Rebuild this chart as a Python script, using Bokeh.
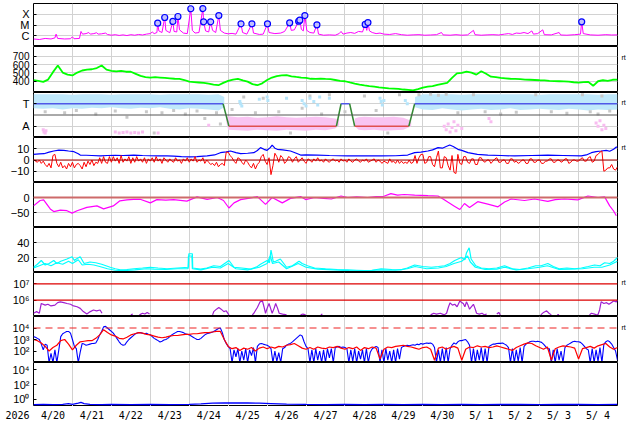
import math
from bokeh.plotting import figure
from bokeh.models import Range1d, FixedTicker, Span, LinearAxis, LogAxis
from bokeh.layouts import column
from bokeh.embed import file_html
from bokeh.resources import INLINE
from bokeh.core.properties import value

NaN = float("nan")

# ---------------- data (x = days since 2026-04-20 00 UT) ----------------
N_DAYS = 15
day_labels = ["4/20", "4/21", "4/22", "4/23", "4/24", "4/25", "4/26", "4/27",
              "4/28", "4/29", "4/30", "5/ 1", "5/ 2", "5/ 3", "5/ 4"]
year_label = "2026"

# X-ray flux, log10(W/m2)
xray = [(0.00, -6.30), (0.15, -6.35), (0.30, -6.25), (0.45, -6.30), (0.55, -6.20), (0.58, -5.85),
        (0.62, -6.25), (0.80, -6.30), (0.95, -6.28), (1.00, -6.10), (1.04, -6.28), (1.18, -6.25),
        (1.22, -5.60), (1.26, -5.85), (1.35, -5.80), (1.42, -5.70), (1.46, -5.85), (1.55, -5.80),
        (1.62, -5.72), (1.66, -5.85), (1.75, -5.82), (1.85, -5.75), (1.90, -5.88), (2.00, -5.95),
        (2.10, -5.90), (2.20, -5.97), (2.30, -5.92), (2.40, -5.98), (2.50, -5.90), (2.60, -5.95),
        (2.70, -5.88), (2.80, -5.93), (2.90, -5.85), (3.00, -5.80), (3.05, -5.65), (3.10, -5.80),
        (3.17, -5.70), (3.19, -4.83), (3.22, -5.55), (3.30, -5.70), (3.37, -4.30), (3.40, -5.50),
        (3.50, -5.72), (3.58, -4.67), (3.61, -5.60), (3.68, -5.65), (3.71, -4.21), (3.75, -5.45),
        (3.85, -5.75), (3.95, -5.80), (4.04, -3.49), (4.08, -5.50), (4.15, -5.75), (4.25, -5.70),
        (4.35, -3.47), (4.37, -4.70), (4.42, -5.55), (4.50, -5.65), (4.55, -4.70), (4.60, -5.50),
        (4.68, -5.70), (4.76, -4.12), (4.80, -5.50), (4.90, -5.75), (5.00, -5.82), (5.10, -5.78),
        (5.20, -5.85), (5.33, -4.89), (5.37, -5.70), (5.48, -5.85), (5.61, -4.89), (5.65, -5.75),
        (5.80, -5.88), (5.90, -5.85), (6.01, -4.89), (6.05, -5.70), (6.20, -5.80), (6.35, -5.75),
        (6.45, -5.60), (6.58, -4.80), (6.62, -5.50), (6.70, -5.45), (6.81, -4.65), (6.84, -4.55),
        (6.88, -5.40), (6.93, -5.55), (6.97, -4.12), (7.02, -5.50), (7.10, -5.70), (7.20, -5.75),
        (7.28, -4.98), (7.32, -5.85), (7.45, -5.95), (7.60, -5.92), (7.75, -5.95), (7.85, -5.80),
        (7.90, -5.60), (7.95, -5.85), (8.05, -5.75), (8.15, -5.70), (8.25, -5.78), (8.35, -5.60),
        (8.45, -5.65), (8.52, -4.95), (8.56, -5.50), (8.59, -4.77), (8.63, -5.55), (8.70, -5.70),
        (8.80, -5.80), (8.90, -5.75), (9.00, -5.85), (9.15, -5.88), (9.30, -5.80), (9.45, -5.90),
        (9.60, -5.95), (9.75, -5.92), (9.90, -5.90), (10.05, -5.95), (10.20, -5.93), (10.35, -5.90),
        (10.48, -5.70), (10.52, -5.92), (10.70, -5.95), (10.85, -5.90), (11.00, -5.95), (11.15, -5.92),
        (11.30, -5.50), (11.34, -5.90), (11.50, -5.95), (11.65, -5.92), (11.80, -5.90), (11.95, -5.93),
        (12.10, -5.85), (12.20, -5.80), (12.30, -5.88), (12.40, -5.75), (12.50, -5.78), (12.60, -5.70),
        (12.70, -5.80), (12.80, -5.55), (12.84, -5.85), (12.95, -5.80), (13.08, -5.45), (13.12, -5.90),
        (13.30, -5.92), (13.50, -5.70), (13.54, -5.93), (13.70, -5.95), (13.90, -5.90), (14.05, -5.85),
        (14.08, -4.70), (14.12, -5.80), (14.30, -5.92), (14.50, -5.95), (14.70, -5.90), (14.85, -5.93),
        (15.00, -5.92)]
flares = [(3.19, -4.83), (3.37, -4.30), (3.58, -4.67), (3.71, -4.21), (4.04, -3.49), (4.35, -3.47),
          (4.37, -4.70), (4.55, -4.70), (4.76, -4.12), (5.33, -4.89), (5.61, -4.89), (6.01, -4.89),
          (6.58, -4.80), (6.81, -4.65), (6.84, -4.55), (6.97, -4.12), (7.28, -4.98), (8.52, -4.95),
          (8.59, -4.77), (14.08, -4.70)]

# solar wind speed (km/s), every 3 h
sw_step = 0.125
sw_speed = [412, 405, 392, 420, 510, 590, 505, 480,
            470, 505, 530, 540, 545, 560, 590, 540,
            525, 520, 525, 515, 515, 490, 465, 450,
            445, 450, 445, 440, 435, 430, 428, 415,
            395, 390, 385, 380, 372, 360, 352, 380,
            405, 420, 428, 410, 395, 365, 352, 375,
            415, 445, 462, 470, 475, 460, 452, 445,
            440, 430, 428, 432, 428, 425, 415, 405,
            400, 385, 371, 360, 350, 342, 335, 325,
            320, 315, 312, 308, 300, 295, 290, 305,
            322, 335, 340, 355, 368, 380, 440, 495,
            500, 515, 505, 480, 520, 490, 455, 450,
            440, 435, 430, 428, 425, 420, 418, 415,
            412, 410, 405, 402, 400, 398, 395, 388,
            383, 390, 392, 345, 400, 412, 405, 418,
            420]

# IMF sector (T = +1, A = -1)
sector_t = [0, 4.87, 5.02, 7.78, 7.90, 8.12, 8.25, 9.64, 9.79, 15]
sector_v = [1, 1, -1, -1, 1, 1, -1, -1, 1, 1]
toward_band_1 = [(0.0, 0.6, 1.85), (0.25, 0.55, 1.85), (0.5, 0.6, 1.85), (0.75, 0.5, 1.85), (1.0, 0.6, 1.8),
                 (1.25, 0.55, 1.85), (1.5, 0.65, 1.85), (1.75, 0.6, 1.85), (2.0, 0.7, 1.8), (2.25, 0.6, 1.85),
                 (2.5, 0.55, 1.85), (2.75, 0.65, 1.85), (3.0, 0.6, 1.85), (3.25, 0.7, 1.8), (3.5, 0.55, 1.85),
                 (3.75, 0.5, 1.85), (4.0, 0.6, 1.85), (4.25, 0.55, 1.85), (4.5, 0.5, 1.8), (4.75, 0.4, 1.85),
                 (4.9, 0.7, 1.6)]
toward_band_2 = [(9.8, 0.7, 1.6), (10.0, 0.5, 1.85), (10.25, 0.45, 1.85), (10.5, 0.6, 1.85), (10.75, 0.5, 1.85),
                 (11.0, 0.4, 1.8), (11.25, 0.5, 1.85), (11.5, 0.55, 1.85), (11.75, 0.45, 1.85), (12.0, 0.5, 1.85),
                 (12.25, 0.6, 1.85), (12.5, 0.45, 1.85), (12.75, 0.5, 1.85), (13.0, 0.55, 1.8), (13.25, 0.5, 1.85),
                 (13.5, 0.45, 1.85), (13.75, 0.55, 1.85), (14.0, 0.5, 1.85), (14.25, 0.4, 1.85), (14.5, 0.5, 1.8),
                 (14.75, 0.45, 1.85), (15.0, 0.5, 1.85)]
away_band_1 = [(4.95, -0.6, -0.2), (5.0, -1.3, -0.1), (5.25, -1.35, -0.2), (5.5, -1.4, -0.15), (5.75, -1.3, -0.25),
               (6.0, -1.35, -0.2), (6.25, -1.4, -0.1), (6.5, -1.3, -0.2), (6.75, -1.35, -0.25), (7.0, -1.4, -0.2),
               (7.25, -1.3, -0.15), (7.5, -1.35, -0.2), (7.75, -1.2, -0.3), (7.85, -0.9, -0.4)]
away_band_2 = [(8.25, -1.0, -0.3), (8.35, -1.3, -0.2), (8.5, -1.35, -0.15), (8.75, -1.3, -0.2), (9.0, -1.4, -0.2),
               (9.25, -1.35, -0.15), (9.5, -1.3, -0.25), (9.7, -1.0, -0.5)]
gray_pts = [(0.3, 0.3), (0.8, 0.2), (1.1, 0.4), (1.6, 0.1), (2.1, 0.35), (2.4, -0.2), (2.9, 0.3), (3.1, -1.6),
            (3.3, 0.2), (3.6, 0.4), (3.9, 0.1), (4.2, 0.35), (4.4, -0.3), (4.7, 0.2), (4.8, -0.8), (5.1, 0.5),
            (5.4, 1.6), (5.7, 0.2), (5.9, 1.5), (6.3, 0.3), (6.6, -1.6), (6.9, 0.6), (7.1, 1.7), (7.4, 0.1),
            (7.6, 1.8), (8.0, 0.3), (8.5, 1.7), (8.8, 0.4), (9.1, -1.6), (9.4, 1.8), (9.9, 1.8), (10.2, 1.85),
            (10.4, 1.75), (10.6, 1.85), (10.9, 0.2), (11.3, 1.8), (11.6, 0.3), (12.0, 0.1), (12.4, 0.25),
            (12.9, 1.8), (13.3, 0.3), (13.7, 0.15), (14.1, 1.8), (14.3, 0.3), (14.5, 0.1), (14.6, 1.7), (14.8, 0.35)]
toward_pts = [(5.3, 1.2), (5.32, 1.0), (5.35, 0.8), (5.8, 1.4), (6.0, 1.6), (6.02, 1.3), (6.5, 1.5), (6.9, 1.3),
              (6.95, 1.0), (7.0, 0.8), (7.1, 1.5), (7.2, 1.2), (7.3, 0.9), (7.35, 1.6), (7.6, 1.5), (8.9, 1.5),
              (8.93, 1.2), (8.96, 0.9), (9.0, 1.3), (9.55, 1.3), (9.6, 1.0)]
away_pts = [(0.25, -1.3), (0.27, -1.5), (0.3, -1.6), (0.32, -1.4), (2.1, -1.5), (2.2, -1.6), (2.3, -1.55),
            (2.4, -1.5), (2.5, -1.6), (2.6, -1.55), (2.7, -1.6), (2.8, -1.5), (3.2, -1.6), (4.5, -0.9),
            (10.55, -1.0), (10.6, -1.3), (10.65, -0.8), (10.7, -1.5), (10.75, -1.1), (10.8, -0.6),
            (10.85, -1.4), (10.9, -0.9), (11.0, -1.2), (11.7, -0.3), (11.75, -0.6), (14.45, -0.7),
            (14.5, -1.0), (14.55, -0.5), (14.6, -1.3), (14.65, -0.9), (14.7, -1.2)]

# IMF Bt and Bz (nT)
bt = [(0, 5.0), (0.15, 5.4), (0.27, 5.6), (0.4, 7.0), (0.52, 8.0), (0.65, 8.8), (0.78, 8.6), (0.9, 8.0),
      (1.04, 7.4), (1.15, 5.5), (1.2, 4.4), (1.35, 4.2), (1.5, 4.0), (1.72, 3.6), (1.9, 4.0), (2.1, 4.2),
      (2.3, 4.0), (2.58, 4.4), (2.8, 4.0), (3.0, 3.8), (3.2, 3.6), (3.43, 3.6), (3.6, 3.4), (3.8, 3.0),
      (4.03, 2.7), (4.2, 3.0), (4.46, 3.6), (4.65, 4.5), (4.8, 6.5), (4.95, 7.2), (5.06, 8.0), (5.2, 6.5),
      (5.32, 5.6), (5.5, 6.0), (5.66, 6.5), (5.75, 8.5), (5.83, 11.0), (5.92, 9.5), (6.0, 8.6), (6.08, 11.0),
      (6.13, 13.3), (6.2, 10.5), (6.26, 9.5), (6.4, 9.0), (6.6, 8.0), (6.75, 6.0), (6.86, 4.4), (7.0, 4.6),
      (7.29, 4.4), (7.6, 4.0), (8.07, 3.6), (8.5, 3.8), (8.93, 3.6), (9.3, 3.8), (9.61, 4.4), (9.79, 6.5),
      (9.95, 7.0), (10.13, 8.0), (10.25, 9.0), (10.39, 11.0), (10.5, 10.5), (10.6, 12.0), (10.69, 13.3),
      (10.78, 12.0), (10.9, 9.5), (11.0, 8.5), (11.16, 6.5), (11.4, 5.0), (11.67, 4.4), (12.0, 4.0),
      (12.36, 3.6), (12.8, 4.0), (13.21, 4.4), (13.6, 4.0), (14.07, 3.6), (14.2, 4.5), (14.33, 6.5),
      (14.45, 7.5), (14.58, 8.0), (14.71, 8.6), (14.8, 7.8), (14.9, 9.5), (14.97, 11.5), (15.0, 11.5)]
bz_step = 0.05
bz = [0.5, -1, -2, 0, -3, -1, -4, -6, -3, -7, 4, 5, -3, -6, -2, -7, -5, -8, -3, -6,
      -2, -7, -4, -3, -5, -8, -2, -6, -1, -4, 0, -5, -2, -3, 2, -3, 3, -2, -3, 3,
      -2, 3, -1, 2, -3, 4, -2, 1, -1, 3, -3, 2, -2, 3, -1, 1, -2, 2, -3, 1,
      -1, 2, -2, 3, -1, 1, -3, 2, 0, -2, 1, -1, -2, 2, -1, 0, -3, 1, -1, 2,
      -2, 1, -1, 3, -2, 0, -1, 2, -3, 0, -2, -4, -3, -5, -2, -6, -4, -3, -5, 7,
      7, 4, 2, -1, -3, 2, 1, -2, -4, 0, -2, -5, -7, -3, -8, -4, -2, 3, 5, -1,
      -4, 2, -13, -5, 6, 3, -2, 4, 2, -3, -1, 3, 2, -2, 1, 3, -2, 0, 2, -1,
      -3, 1, 0, -2, 1, -1, 2, -1, 0, -2, 1, -1, -2, 0, 1, -1, 0, -2, 1, -1,
      0, -2, 1, -1, -2, 0, 1, -1, -2, 0, -1, 1, -2, -1, 0, 1, -2, 0, -1, -3,
      -1, -2, -3, 1, -2, -1, -3, 0, -3, -1, -3, -2, -3, 0, -3, -2, 4, -3, 2, 5,
      5, -3, -2, 3, 3, -4, -6, 2, 8, -7, -7, 3, 2, -5, -9, 4, -11, -12, 5, -3,
      -4, 3, 3, -2, -3, 1, 1, -4, -4, 2, 2, -1, -2, 0, 0, -3, -1, 1, 2, -2,
      -2, 0, 0, -3, -3, 1, 1, -2, -1, -3, -2, 0, 0, -3, -3, 1, 1, -2, -2, 0,
      0, -3, -3, -1, -1, 1, 1, -2, -2, 0, 0, -2, -1, 1, 1, -3, -2, 0, 0, -1,
      -1, 1, 2, -1, -1, 2, 3, -2, -1, 4, 5, 7, 8, -10, -9, -7, -7, -4, -8, -9,
      -6]

# Dst (nT)
dst = [(0.0, -28), (0.17, -10), (0.26, -8), (0.43, -38), (0.52, -47), (0.69, -42), (0.86, -44), (0.99, -52),
       (1.12, -44), (1.37, -33), (1.63, -28), (1.8, -38), (2.05, -28), (2.22, -11), (2.4, -8), (2.57, -6),
       (2.74, -6), (3.0, -18), (3.17, -7), (3.4, -9), (3.6, -7), (3.94, -12), (4.2, 2), (4.46, -6), (4.72, 0),
       (4.88, -10), (5.02, -35), (5.15, -18), (5.32, -7), (5.55, -2), (5.75, 3), (5.96, -23), (6.13, 0),
       (6.39, -18), (6.6, -3), (6.86, 3), (6.99, -7), (7.22, 0), (7.45, -3), (7.65, -5), (7.9, 5), (8.07, 0),
       (8.3, 2), (8.58, 0), (8.8, 3), (9.0, 4), (9.18, 13), (9.35, 8), (9.52, 10), (9.79, 8), (10.13, 6),
       (10.39, 5), (10.52, -5), (10.65, -16), (10.8, -28), (10.95, -40), (11.07, -20), (11.2, -33),
       (11.41, -14), (11.67, -22), (11.93, -31), (12.1, -15), (12.27, -5), (12.61, -10), (12.87, -5),
       (13.21, -13), (13.4, -7), (13.64, -5), (13.98, -8), (14.24, 5), (14.5, 0), (14.67, 2), (14.8, -28),
       (14.9, -45), (14.97, -61)]

# cyan index (two traces)
cyan_a = [(0, 7), (0.1, 11), (0.2, 16), (0.3, 10), (0.4, 12), (0.52, 16), (0.6, 12), (0.7, 15), (0.86, 18),
          (0.99, 21), (1.05, 16), (1.1, 18), (1.2, 21), (1.3, 12), (1.45, 14), (1.6, 13), (1.75, 11), (1.97, 7),
          (2.1, 5), (2.23, 3.5), (2.4, 4), (2.58, 5), (2.8, 6), (3.0, 7), (3.2, 6), (3.43, 5), (3.7, 6),
          (3.98, 7), (3.99, 25), (4.08, 25), (4.09, 6), (4.29, 4.5), (4.45, 6), (4.63, 9), (4.8, 8), (5.02, 16),
          (5.15, 7), (5.35, 6), (5.58, 4.5), (5.75, 8), (5.83, 11), (6.0, 16), (6.06, 13), (6.1, 30), (6.16, 14),
          (6.22, 15), (6.34, 18), (6.5, 7), (6.65, 9), (6.82, 15), (6.9, 12), (7.04, 9), (7.22, 6), (7.5, 5),
          (7.8, 4), (8.07, 3.5), (8.3, 3), (8.5, 2.5), (8.7, 3), (8.93, 5), (9.2, 4), (9.44, 3.5), (9.6, 6),
          (9.79, 10), (10.0, 8), (10.22, 7), (10.4, 8), (10.56, 9), (10.7, 12), (10.82, 16), (10.99, 20),
          (11.08, 17), (11.12, 26), (11.19, 33), (11.24, 18), (11.36, 9), (11.5, 6), (11.7, 5), (11.9, 6),
          (12.1, 9), (12.3, 5), (12.5, 4), (12.7, 6), (12.9, 9), (13.04, 9), (13.21, 12), (13.35, 8), (13.5, 5),
          (13.7, 6), (13.9, 5), (14.07, 6), (14.25, 8), (14.41, 10), (14.55, 9), (14.67, 13), (14.8, 12),
          (14.9, 15), (15.0, 20)]
cyan_b = [(0, 6), (0.15, 9), (0.3, 12), (0.45, 9), (0.6, 13), (0.75, 11), (0.9, 15), (1.0, 12), (1.15, 17),
          (1.25, 10), (1.4, 11), (1.55, 10), (1.7, 8), (1.9, 5), (2.1, 3), (2.3, 2.5), (2.6, 3.5), (2.9, 5),
          (3.1, 4.5), (3.4, 4), (3.7, 5), (3.97, 5), (3.98, 22), (4.07, 22), (4.08, 5), (4.3, 3.5), (4.6, 7),
          (4.8, 6), (5.0, 12), (5.2, 5), (5.5, 3.5), (5.8, 7), (6.0, 12), (6.08, 22), (6.14, 12), (6.3, 14),
          (6.5, 5), (6.8, 12), (7.0, 7), (7.3, 4.5), (7.7, 3.5), (8.1, 2.5), (8.5, 2), (8.9, 3.5), (9.3, 3),
          (9.6, 5), (9.8, 8), (10.1, 5), (10.4, 6), (10.6, 8), (10.8, 12), (11.0, 15), (11.15, 22), (11.22, 14),
          (11.35, 7), (11.6, 4), (11.9, 4.5), (12.1, 7), (12.4, 3.5), (12.7, 5), (13.0, 7), (13.2, 9), (13.5, 4),
          (13.8, 4.5), (14.1, 5), (14.4, 7), (14.6, 7), (14.8, 10), (15.0, 15)]

# purple flux, log10
purple = [(0.0, 5.2), (0.08, 5.3), (0.15, 5.2), (0.2, 5.8), (0.3, 5.7), (0.37, 5.75), (0.45, 5.65), (0.55, 5.7),
          (0.62, 5.85), (0.69, 5.9), (0.78, 5.85), (0.86, 5.8), (0.95, 5.75), (1.03, 5.65), (1.12, 5.6),
          (1.2, 5.5), (1.28, 5.3), (1.37, 5.15), (1.46, 5.3), (1.54, 5.4), (1.62, 5.35), (1.71, 5.4),
          (1.76, 5.2), (1.78, NaN), (2.5, 5.1), (2.55, 5.15), (2.58, NaN), (2.72, 5.1), (2.8, 5.2),
          (2.86, 5.15), (2.92, 5.25), (2.98, 5.15), (3.02, NaN), (4.6, 5.1), (4.63, 5.3), (4.7, 5.45),
          (4.76, 5.55), (4.82, 5.45), (4.89, 5.3), (4.95, 5.35), (5.02, 5.1), (5.05, NaN), (5.62, 5.1),
          (5.66, 5.2), (5.75, 5.55), (5.82, 5.9), (5.88, 5.96), (5.92, 5.6), (5.96, 5.2), (6.0, 5.5),
          (6.05, 5.8), (6.09, 5.5), (6.13, 5.2), (6.18, 5.5), (6.22, 5.8), (6.27, 5.5), (6.31, 5.2),
          (6.4, 5.15), (6.5, 5.1), (6.52, NaN), (6.86, 5.1), (6.92, 5.15), (6.99, 5.1), (7.01, NaN),
          (7.38, 5.1), (7.42, 5.15), (7.45, NaN), (10.2, 5.1), (10.28, 5.2), (10.35, 5.15), (10.45, 5.2),
          (10.55, 5.1), (10.61, 5.2), (10.66, 5.6), (10.7, 5.84), (10.76, 5.7), (10.82, 5.75), (10.88, 5.6),
          (10.95, 5.95), (11.0, 5.85), (11.04, 5.8), (11.08, 5.6), (11.12, 5.9), (11.16, 5.7), (11.2, 5.45),
          (11.25, 5.6), (11.3, 5.75), (11.34, 5.5), (11.38, 5.2), (11.45, 5.15), (11.52, 5.2), (11.58, 5.1),
          (11.64, 5.15), (11.67, NaN), (11.9, 5.15), (11.95, 5.25), (11.99, 5.1), (12.02, NaN), (13.03, 5.1),
          (13.1, 5.25), (13.18, 5.35), (13.24, 5.2), (13.3, 5.1), (13.33, NaN), (13.45, 5.1), (13.5, 5.12),
          (13.52, NaN), (14.28, 5.1), (14.33, 5.2), (14.41, 5.15), (14.45, 5.1), (14.5, 5.12), (14.54, 5.4),
          (14.58, 5.9), (14.65, 5.8), (14.72, 5.85), (14.78, 5.75), (14.84, 5.85), (14.9, 5.95), (14.97, 5.9),
          (15.0, 6.0)]

# electron fluxes, log10
el_blue_step = 0.05
el_blue = [3.25, 3.2, 3.1, 3.0, 2.6, 2.1, 2.6, 2.5, 1.0, 1.8, 1.0, 2.1, 1.0, 2.1, 3.25, 3.5, 3.6, 3.7, 3.7, 3.55,
           3.0, 2.4, 2.2, 1.0, 1.9, 2.66, 2.6, 2.5, 2.55, 2.6, 2.65, 2.66, 2.7, 3.0, 3.4, 3.7, 4.1, 4.14, 4.0, 3.85,
           3.7, 3.55, 3.3, 3.05, 2.8, 2.6, 2.5, 2.55, 2.8, 3.0, 3.15, 3.3, 3.45, 3.55, 3.6, 3.6, 3.55, 3.5, 3.55, 3.45,
           3.4, 3.25, 3.1, 3.0, 2.9, 2.78, 2.85, 2.95, 3.0, 3.1, 3.25, 3.4, 3.5, 3.6, 3.7, 3.7, 3.65, 3.6, 3.5, 3.45,
           3.4, 3.3, 3.2, 3.1, 3.0, 3.0, 3.1, 3.25, 3.4, 3.5, 3.55, 3.6, 3.65, 3.75, 3.85, 3.95, 4.0, 3.6, 3.0, 2.66,
           2.4, 2.2, 1.0, 2.1, 1.5, 2.2, 1.0, 2.0, 1.2, 2.2, 1.0, 2.1, 1.6, 2.3, 1.0, 2.4, 2.6, 2.66, 2.6, 2.55,
           2.5, 2.4, 2.2, 1.0, 2.0, 1.1, 1.85, 1.0, 2.2, 2.3, 2.5, 2.6, 2.66, 2.8, 2.95, 3.1, 3.25, 3.4, 3.3, 2.8,
           2.4, 2.2, 1.0, 2.1, 1.0, 2.2, 1.2, 2.0, 1.0, 2.1, 1.0, 2.2, 1.4, 2.2, 1.0, 2.3, 2.35, 2.4, 2.3, 2.35,
           2.3, 2.2, 1.0, 2.1, 1.1, 2.2, 1.0, 2.0, 1.3, 2.1, 1.0, 2.2, 1.0, 1.9, 2.2, 2.3, 2.4, 2.3, 1.0, 2.1,
           1.0, 2.2, 1.2, 2.0, 1.0, 2.1, 1.0, 2.2, 1.3, 2.3, 2.4, 2.45, 2.5, 2.45, 2.5, 2.55, 2.5, 2.6, 2.55, 2.65,
           2.6, 2.65, 2.7, 2.66, 2.7, 2.6, 2.3, 1.0, 2.1, 1.0, 2.2, 1.1, 2.3, 1.0, 2.2, 2.5, 2.7, 2.6, 2.8, 2.9,
           2.9, 2.95, 3.0, 2.8, 2.5, 1.0, 2.2, 1.0, 2.1, 1.2, 2.3, 1.0, 2.2, 1.0, 2.4, 2.5, 2.6, 2.6, 2.65, 2.66,
           2.66, 2.7, 2.6, 2.5, 2.3, 1.0, 2.2, 1.0, 2.1, 1.1, 2.3, 1.0, 2.4, 2.6, 2.7, 2.8, 2.85, 2.85, 2.8, 2.85,
           2.8, 2.75, 2.6, 2.4, 2.2, 2.2, 1.0, 2.1, 1.0, 2.2, 1.2, 2.0, 1.0, 2.3, 2.5, 2.6, 2.7, 2.8, 2.85, 2.8,
           2.8, 2.75, 2.6, 2.4, 2.2, 2.1, 1.0, 2.2, 1.0, 2.1, 1.1, 2.3, 1.0, 2.6, 2.8, 2.9, 2.8, 2.6, 2.3, 2.0,
           1.2]
el_red_step = 0.1
el_red = [3.0, 2.9, 2.7, 2.4, 2.0, 2.3, 2.5, 2.9, 3.0, 2.6,
          2.1, 2.5, 2.8, 2.85, 2.9, 2.9, 3.1, 3.4, 3.85, 3.6,
          3.4, 3.3, 3.1, 3.05, 3.2, 3.4, 3.5, 3.6, 3.55, 3.45,
          3.4, 3.3, 3.2, 3.15, 3.2, 3.3, 3.35, 3.35, 3.4, 3.45,
          3.45, 3.5, 3.5, 3.55, 3.6, 3.6, 3.65, 3.7, 3.7, 3.0,
          2.4, 2.2, 2.3, 2.05, 2.25, 2.15, 2.3, 2.0, 2.25, 2.35,
          2.2, 2.35, 2.25, 2.4, 2.35, 2.5, 2.55, 2.65, 2.45, 2.25,
          2.15, 2.3, 2.15, 2.35, 2.25, 2.2, 2.35, 2.3, 2.4, 2.25,
          2.15, 2.3, 2.2, 2.35, 2.05, 2.3, 2.2, 2.35, 2.25, 1.3,
          2.15, 2.35, 2.3, 2.4, 2.45, 2.5, 2.4, 2.35, 2.25, 2.15,
          2.3, 2.35, 2.15, 1.2, 2.25, 2.35, 2.15, 2.3, 2.4, 2.25,
          1.2, 2.15, 2.35, 2.3, 2.45, 2.35, 2.4, 2.3, 2.35, 2.45,
          2.35, 2.25, 2.15, 2.05, 2.3, 2.45, 2.6, 2.7, 2.65, 2.45,
          2.3, 2.15, 2.35, 1.2, 2.2, 2.35, 2.45, 2.4, 2.35, 2.25,
          1.3, 2.2, 2.3, 2.4, 2.25, 2.45, 2.55, 2.65, 2.35, 2.15,
          2.3]

# proton flux, log10
proton = [(0, -0.75), (0.25, -0.72), (0.5, -0.74), (0.75, -0.7), (0.9, -0.62), (1.0, -0.7), (1.15, -0.55),
          (1.22, -0.45), (1.3, -0.6), (1.45, -0.72), (1.75, -0.74), (2.0, -0.73), (2.5, -0.75), (3.0, -0.72),
          (3.5, -0.74), (4.0, -0.72), (4.3, -0.65), (4.6, -0.55), (4.9, -0.5), (5.2, -0.52), (5.5, -0.5),
          (5.8, -0.55), (6.1, -0.6), (6.5, -0.68), (7.0, -0.72), (7.5, -0.74), (8.0, -0.72), (8.5, -0.75),
          (9.0, -0.73), (9.5, -0.74), (10.0, -0.72), (10.5, -0.74), (11.0, -0.72), (11.5, -0.75), (12.0, -0.73),
          (12.5, -0.72), (13.0, -0.74), (13.5, -0.73), (14.0, -0.72), (14.5, -0.74), (15.0, -0.72)]

# ---------------- helpers ----------------
def col(pairs, i):
    return [p[i] for p in pairs]

def pow10(vals):
    return [10 ** v for v in vals]

def regular_t(n, step):
    return [i * step for i in range(n)]

GRID = "#d2d2d2"
FW = 584
LEFT, RIGHT, TOP = 33, 17, 3
xr = Range1d(0, N_DAYS)

def style_axis(ax, size="11px", font="Liberation Sans", standoff=4):
    ax.axis_line_color = None
    ax.major_tick_in = 0
    ax.major_tick_out = 0
    ax.minor_tick_line_color = None
    ax.major_label_standoff = standoff
    ax.major_label_text_font = font
    ax.major_label_text_font_size = size
    ax.major_label_text_color = "black"

def panel(y_range, ticks, fh, labels=None, log=False, first=False, grid=True, size="11px"):
    p = figure(x_range=xr, y_range=y_range, y_axis_type="log" if log else "linear",
               frame_width=FW, frame_height=fh, min_border_left=LEFT, min_border_right=RIGHT,
               min_border_top=TOP if first else 0, min_border_bottom=0,
               output_backend="svg", toolbar_location=None)
    p.outline_line_color = "black"
    p.outline_line_width = 1
    tk = FixedTicker(ticks=ticks, minor_ticks=[])
    ax = p.yaxis[0]
    ax.ticker = tk
    if labels:
        ax.major_label_overrides = dict(zip(ticks, labels))
    style_axis(ax, size=size)
    ax.major_tick_in = 3
    ax.major_tick_line_color = "black"
    p.ygrid.ticker = tk
    p.ygrid.grid_line_color = GRID if grid else None
    p.xgrid.ticker = FixedTicker(ticks=list(range(1, N_DAYS)))
    p.xgrid.grid_line_color = GRID
    p.xaxis.visible = False
    return p

def separator(p):
    p.add_layout(Span(location=p.y_range.start, dimension="width",
                      line_color="black", line_width=3))

def rt(p, yval, log=False):
    A = LogAxis if log else LinearAxis
    ax = A(ticker=FixedTicker(ticks=[yval], minor_ticks=[]))
    ax.major_label_overrides = {yval: "rt"}
    style_axis(ax, size="7px", standoff=4)
    p.add_layout(ax, "right")

panels = []

# 1 X-ray
p1 = panel(Range1d(1e-7, 1e-3), [1e-6, 1e-5, 1e-4], 43, ["C", "M", "X"], log=True, first=True)
p1.line(col(xray, 0), pow10(col(xray, 1)), line_color="#ff00ff", line_width=1)
p1.scatter(col(flares, 0), pow10(col(flares, 1)), marker="circle", size=6,
           line_color="#0000ff", fill_color="#c0c0ff", line_width=1.2)
separator(p1)
panels.append(p1)

# 2 solar wind speed
p2 = panel(Range1d(264, 820), [400, 500, 600, 700], 46, size="10px")
p2.line(regular_t(len(sw_speed), sw_step), sw_speed, line_color="#00ff00", line_width=1.8)
rt(p2, 690)
separator(p2)
panels.append(p2)

# 3 IMF sector
p3 = panel(Range1d(-2, 2), [-1, 1], 45, ["A", "T"])
for band in (toward_band_1, toward_band_2):
    p3.varea(x=col(band, 0), y1=col(band, 1), y2=col(band, 2), fill_color="#bfe8fb")
for band in (away_band_1, away_band_2):
    p3.varea(x=col(band, 0), y1=col(band, 1), y2=col(band, 2), fill_color="#f9c4f2")
p3.scatter(col(gray_pts, 0), col(gray_pts, 1), marker="square", size=3, line_color=None, fill_color="#c8c8c8")
p3.scatter(col(toward_pts, 0), col(toward_pts, 1), marker="square", size=3, line_color=None, fill_color="#b4e4fa")
p3.scatter(col(away_pts, 0), col(away_pts, 1), marker="square", size=3, line_color=None, fill_color="#f8bcf0")
p3.add_layout(Span(location=0, dimension="width", line_color="#555555", line_width=1))
sx0, sy0, sx1, sy1, scol = [], [], [], [], []
for i in range(len(sector_t) - 1):
    sx0.append(sector_t[i]); sy0.append(sector_v[i])
    sx1.append(sector_t[i + 1]); sy1.append(sector_v[i + 1])
    if sector_v[i] == sector_v[i + 1]:
        scol.append("#5058e8" if sector_v[i] > 0 else "#e05050")
    else:
        scol.append("#338833")
p3.segment(sx0, sy0, sx1, sy1, line_color=scol, line_width=1.5)
rt(p3, 1.1)
separator(p3)
panels.append(p3)

# 4 IMF Bt / Bz
p4 = panel(Range1d(-20, 20), [-10, 0, 10], 45)
p4.line(col(bt, 0), col(bt, 1), line_color="#0000ff", line_width=1.2)
p4.line(regular_t(len(bz), bz_step), bz, line_color="#ff0000", line_width=1)
p4.add_layout(Span(location=0, dimension="width", line_color="#aa0000", line_width=1))
rt(p4, 11)
separator(p4)
panels.append(p4)

# 5 Dst
p5 = panel(Range1d(-100, 50), [-50, 0], 45)
p5.add_layout(Span(location=0, dimension="width", line_color="#cd6a6a", line_width=2.2))
p5.line(col(dst, 0), col(dst, 1), line_color="#ff00ff", line_width=1.2)
separator(p5)
panels.append(p5)

# 6 cyan index
p6 = panel(Range1d(0, 60), [20, 40], 45)
p6.line(col(cyan_b, 0), col(cyan_b, 1), line_color="#00ffff", line_width=1.2)
p6.line(col(cyan_a, 0), col(cyan_a, 1), line_color="#00ffff", line_width=1.2)
separator(p6)
panels.append(p6)

# 7 purple flux
p7 = panel(Range1d(1e5, 10 ** 7.7), [1e6, 1e7], 44, ["10\u2076", "10\u2077"], log=True, grid=False)
for lvl in (1e6, 1e7):
    p7.add_layout(Span(location=lvl, dimension="width", line_color="#dd0000", line_width=1.2))
p7.line(col(purple, 0), pow10(col(purple, 1)), line_color="#a020d0", line_width=1.2)
rt(p7, 1.2e7, log=True)
separator(p7)
panels.append(p7)

# 8 electrons
p8 = panel(Range1d(10, 1e5), [1e2, 1e3, 1e4], 46, ["10\u00b2", "10\u00b3", "10\u2074"], log=True, grid=False)
p8.add_layout(Span(location=1e4, dimension="width", line_color="#ee2222", line_width=1.2, line_dash="7 5"))
p8.line(regular_t(len(el_blue), el_blue_step), pow10(el_blue), line_color="#0000ff", line_width=1.1)
p8.line(regular_t(len(el_red), el_red_step), pow10(el_red), line_color="#ff0000", line_width=1.2)
rt(p8, 1.2e4, log=True)
separator(p8)
panels.append(p8)

# 9 protons
p9 = panel(Range1d(0.1, 1e5), [1, 1e2, 1e4], 44, ["10\u2070", "10\u00b2", "10\u2074"], log=True, grid=False)
p9.line(col(proton, 0), pow10(col(proton, 1)), line_color="#0000ff", line_width=1.3)
panels.append(p9)

# date axis strip: year as the strip's axis label, day labels as text
pd = figure(x_range=xr, y_range=Range1d(0, 1), frame_width=FW, frame_height=17,
            min_border_left=LEFT, min_border_right=RIGHT, min_border_top=0, min_border_bottom=0,
            output_backend="svg", toolbar_location=None)
pd.outline_line_color = None
pd.xaxis.visible = False
pd.xgrid.grid_line_color = None
pd.ygrid.grid_line_color = None
ya = pd.yaxis[0]
ya.ticker = FixedTicker(ticks=[0.5], minor_ticks=[])
ya.major_label_overrides = {0.5: year_label}
style_axis(ya, size="10px", font="DejaVu Sans Mono", standoff=4)
pd.text(x=[i + 0.5 for i in range(N_DAYS)], y=[0.5] * N_DAYS, text=day_labels,
        text_align="center", text_baseline="middle", text_font=value("DejaVu Sans Mono"),
        text_font_size="10px", text_color="black")
panels.append(pd)

layout = column(*panels, spacing=0)
open("out.html", "w").write(file_html(layout, INLINE))
